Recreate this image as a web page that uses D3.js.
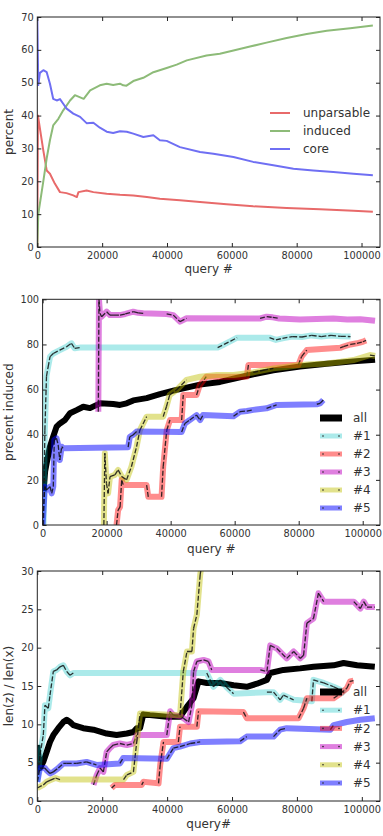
<!DOCTYPE html>
<html>
<head>
<meta charset="utf-8">
<script src="https://cdn.jsdelivr.net/npm/d3@7"></script>
<style>
  body { margin: 0; background: #fff; }
  text { font-family: "DejaVu Sans", sans-serif; fill: #333; }
</style>
</head>
<body>
<div id="chart"></div>
<script>
// ---- panel 1: percent of queries ----
const p1Unparsable = [[0,0],[200,40],[1850,29.4],[2900,23.3],[3900,22.3],[5400,19.3],[7000,16.7],[9000,16.4],[11100,15.7],[12200,15.2],[12700,16.7],[15200,17.2],[17300,16.7],[21400,16.2],[25500,15.9],[29600,15.7],[33800,15.2],[37800,14.7],[44000,14.2],[50200,13.7],[58400,13.0],[66600,12.4],[76900,11.9],[87200,11.5],[97500,11.0],[103500,10.7]];
const p1Induced = [[0,0],[300,10],[1850,20],[2900,27],[3900,32.5],[4900,37],[6500,39],[8000,41.6],[10100,44.6],[11600,46.2],[14300,45.1],[16300,47.7],[19300,49.2],[21400,49.7],[23400,49.3],[25500,49.7],[26500,49.2],[27500,49.1],[29600,50.5],[32700,51.5],[35800,53.2],[39900,54.5],[43000,55.5],[46100,56.8],[52200,58.3],[56300,58.8],[60500,59.8],[65600,61],[70700,62.2],[76900,63.6],[83100,64.8],[89300,65.8],[96500,66.6],[103500,67.4]];
const p1Core = [[0,70],[300,49.3],[800,53],[1850,53.8],[2900,53.2],[3900,49.7],[4900,45.1],[6000,44.6],[7000,45],[8000,43.6],[9050,42.1],[11100,40.6],[13200,39.6],[15200,37.7],[17300,37.8],[19300,36.3],[21400,35.1],[23400,34.7],[25500,35.2],[27600,35.1],[29600,34.5],[32700,33.5],[35800,34],[37800,32.5],[39900,32.3],[44000,30.4],[50200,28.9],[54300,28.4],[60500,27.4],[66600,25.9],[72800,24.9],[79000,23.8],[85100,23.3],[91300,22.8],[97500,22.3],[103500,21.8]];
const p1Names = ["unparsable", "induced", "core"];

// ---- panel 2: precent induced ----
const p2All = [[300,15],[810,24],[1250,27.3],[2290,34.7],[3330,39.2],[4370,43.6],[5420,45],[6980,46.5],[8550,49.5],[10620,50.9],[12710,52.4],[14790,51.8],[17920,53.9],[22080,53.6],[24170,53.2],[26250,53.9],[28330,55.2],[32500,56.2],[36660,58],[40830,59.5],[45000,60.9],[49170,62.2],[55410,63.4],[59590,64.8],[65830,66.8],[72080,68.5],[80410,70.2],[88750,71.4],[97080,72.5],[103850,73.2]];
const p2N1 = [[300,0],[710,42],[1220,66],[1720,70],[2330,74.6],[3340,76],[5370,77.5],[7490,79],[9010,80.5],[10020,78.3],[11640,78.6],[54680,78.6],[56700,80],[58730,81.5],[60750,83],[70880,83],[72900,82],[74930,82.7],[77960,83.5],[81000,83.3],[84040,84],[87080,83.5],[90110,84],[93150,83.6],[96190,83.5]];
const p2N2 = [[23090,0],[23590,6.6],[24200,8],[24710,20],[25210,17.7],[32500,17.7],[33010,12.5],[37160,12.5],[37670,25.8],[38780,42],[39790,46.5],[43440,46.5],[43940,57.6],[48090,57.6],[49110,62],[51130,65.7],[63790,65.7],[64290,70.9],[79890,70.9],[80900,74.6],[82520,77.5],[92950,78.5],[93960,79],[96190,80],[98210,80.5],[100040,81.2],[101050,81.8]];
const p2N3 = [[17400,50.2],[17610,100],[17920,93.8],[18430,92.3],[20000,94.5],[21040,93],[22280,93],[24170,93],[25820,93.5],[28330,94.5],[29870,94],[31460,93.8],[38750,93.5],[40830,93],[42920,90.1],[45000,91.6],[67920,91.5],[70000,92.3],[71890,92],[73910,91.5],[80410,91],[90830,91.5],[95180,91],[99230,91.2],[103850,90.5]];
const p2N4 = [[19140,0],[19440,31.8],[19950,18.5],[20450,14],[21060,21.4],[22580,22.2],[23590,24.4],[24710,21.5],[26220,20],[27740,25.8],[29360,34.7],[30380,42],[32500,48],[37670,48],[38680,52.4],[39690,57.6],[41820,59.8],[44960,64.3],[49210,65.7],[54370,66.5],[59640,66.5],[65810,67.6],[68850,68.5],[72090,69.4],[75940,70],[80390,70.9],[84040,71.2],[88800,71.6],[93150,72.3],[97100,73.1],[102260,75.3],[103880,74.9]];
const p2N5 = [[0,0],[710,17],[1220,15.5],[2330,17],[2840,14],[3340,17],[3650,37.7],[4350,38.4],[4860,35.5],[5370,28.8],[5970,34.7],[6380,34],[26730,34.5],[27240,39.1],[28250,39.9],[29360,41.4],[43440,41.2],[44450,45],[45970,46.5],[48090,48.7],[49210,46.5],[50120,48.7],[59640,48.2],[61660,50.2],[63790,50.5],[65810,51],[69960,51.7],[73100,53.2],[85660,53.5],[86670,53.9],[87680,55.4]];

// ---- panel 3: len(z) / len(x) ----
const p3All = [[0,7.3],[820,4.3],[1850,5.1],[2880,6.4],[3910,7.7],[4940,8.6],[6470,9.5],[8020,10.3],[9050,10.6],[10080,10.3],[11100,9.9],[14150,9.5],[17310,9.3],[21380,8.8],[24430,8.6],[27590,8.8],[29620,9.0],[30640,9.5],[31660,9.5],[32680,11.3],[34710,11.2],[39900,11.0],[43980,11.0],[46120,12.3],[48150,13.4],[49680,15.6],[52220,15.4],[56400,15.4],[60470,15.1],[64540,14.9],[67700,15.3],[70750,15.8],[71770,16.7],[75840,17.1],[81030,17.3],[85100,17.5],[91310,17.7],[94370,18],[98540,17.7],[104000,17.5]];
const p3N1 = [[0,2.5],[820,6],[1850,8.6],[2360,12.5],[3390,12.1],[3910,13.8],[4940,16.9],[5970,17.1],[6990,17.5],[8020,17.7],[9050,16.9],[10080,16.4],[11100,16.7],[52220,16.7],[54260,14.9],[56400,15.8],[58430,14.8],[60470,14.0],[70750,14.2],[72790,14.2],[74820,13.2],[75840,13.8],[79000,13.2],[84600,13],[85100,15.8],[88260,15.4],[91310,14.9],[93350,14.5],[94880,14.0]];
const p3N2 = [[22900,1.7],[23920,2.1],[32170,2.1],[32680,2.5],[37360,2.3],[37870,4.7],[38890,7.7],[43470,7.7],[43980,9.7],[49170,9.7],[49680,11.7],[63520,11.6],[64540,10.8],[80520,10.8],[82050,12.1],[83070,13.4],[91310,13.4],[93350,14.0],[95390,14.7],[96400,15.6],[97420,15.7]];
const p3N3 = [[17310,2.1],[18320,3.4],[19340,4.3],[20360,3.8],[21380,6.4],[22400,6.9],[23410,7.3],[25450,7.5],[27590,7.3],[29620,7.5],[30640,8.6],[39900,8.6],[40920,11.7],[41940,11.2],[44490,11],[45000,10.8],[46620,10.3],[47640,12.5],[48150,16.9],[49170,18.2],[51210,18.4],[52730,18.2],[53750,17.1],[68720,17.1],[70750,16.9],[71770,20.3],[73800,19.9],[76860,18.6],[79000,19.5],[81030,18.6],[82050,19],[83070,23.2],[85100,23.8],[86630,27.1],[88260,26],[97520,26],[99560,25.1],[100590,26],[101600,25.3],[104000,25.3]];
const p3N4 = [[0,1.7],[1850,2.1],[2880,2.5],[3910,2.7],[5600,3.0],[6990,2.8],[26570,2.8],[27590,3.4],[29620,3.8],[30640,7.7],[31660,11.4],[43980,11.2],[44990,16.9],[46120,19.5],[47640,19.5],[48150,22.5],[49170,24.3],[50190,29.5],[50700,31]];
const p3N5 = [[0,2.5],[820,4.3],[2360,4.3],[2880,4.0],[3910,3.6],[4940,3.8],[6470,4.3],[8020,4.9],[9050,4.9],[12110,4.9],[15170,5.1],[18220,4.7],[25450,4.9],[26470,5.6],[39900,5.5],[41940,6.9],[43980,7.1],[47130,7.5],[50190,7.7],[62500,7.8],[64540,8.4],[72790,8.4],[74820,9.3],[76860,9.5],[90300,9.3],[91310,9.9],[95380,10.3],[99560,10.6],[104000,10.8]];
const groupNames = ["all", "#1", "#2", "#3", "#4", "#5"];

const xTicks = [0, 20000, 40000, 60000, 80000, 100000];

const width = 383, height = 836;
const svg = d3.select("#chart").append("svg")
    .attr("width", width)
    .attr("height", height);

const groupStyle = [
    {color: "#000", width: 6, legendWidth: 7, opacity: 1, dots: false},
    {color: "#00bfbf", width: 6, legendWidth: 5, opacity: 0.33, dots: true},
    {color: "#ff0000", width: 6, legendWidth: 5, opacity: 0.45, dots: true},
    {color: "#bf00bf", width: 6, legendWidth: 5, opacity: 0.5, dots: true},
    {color: "#bfbf00", width: 6, legendWidth: 5, opacity: 0.45, dots: true},
    {color: "#0000ff", width: 6, legendWidth: 5, opacity: 0.5, dots: true}
];

const panels = [
    {
        id: "p1", left: 37.3, right: 380, top: 17, bottom: 247, xMax: 105700,
        yMax: 70, yTicks: d3.range(0, 71, 10), yLabel: "percent", xLabel: "query #", xLabelY: 273,
        series: [p1Unparsable, p1Induced, p1Core], names: p1Names,
        styles: [
            {color: "#e86a6a", width: 2, legendWidth: 2, opacity: 1, dots: false},
            {color: "#8dbb78", width: 2, legendWidth: 2, opacity: 1, dots: false},
            {color: "#6f6ff3", width: 2, legendWidth: 2, opacity: 1, dots: false}
        ],
        legend: {x1: 270, x2: 290, tx: 303, y: 113, step: 18}
    },
    {
        id: "p2", left: 42.6, right: 380, top: 299.3, bottom: 525, xMax: 105400,
        yMax: 100, yTicks: d3.range(0, 101, 20), yLabel: "precent induced", xLabel: "query #", xLabelY: 553,
        series: [p2All, p2N1, p2N2, p2N3, p2N4, p2N5], names: groupNames, styles: groupStyle,
        legend: {x1: 320, x2: 342, tx: 353, y: 418, step: 18}
    },
    {
        id: "p3", left: 37.3, right: 380, top: 571, bottom: 801, xMax: 105600,
        yMax: 30, yTicks: d3.range(0, 31, 5), yLabel: "len(z) / len(x)", xLabel: "query#", xLabelY: 828,
        series: [p3All, p3N1, p3N2, p3N3, p3N4, p3N5], names: groupNames, styles: groupStyle,
        legend: {x1: 320, x2: 342, tx: 353, y: 692, step: 18.2}
    }
];

panels.forEach(drawPanel);

function drawPanel(p) {
    const x = d3.scaleLinear().domain([0, p.xMax]).range([p.left, p.right]);
    const y = d3.scaleLinear().domain([0, p.yMax]).range([p.bottom, p.top]);
    const g = svg.append("g");

    g.append("clipPath").attr("id", "clip-" + p.id)
        .append("rect")
        .attr("x", p.left).attr("y", p.top)
        .attr("width", p.right - p.left).attr("height", p.bottom - p.top);

    const plot = g.append("g").attr("clip-path", `url(#clip-${p.id})`);
    const line = d3.line().x(d => x(d[0])).y(d => y(d[1]));

    p.series.forEach((data, i) => {
        const s = p.styles[i];
        plot.append("path")
            .attr("d", line(data))
            .attr("fill", "none")
            .attr("stroke", s.color)
            .attr("stroke-opacity", s.opacity)
            .attr("stroke-width", s.width)
            .attr("stroke-linejoin", "round");
        if (s.dots) {
            // black marker trace only where samples are dense
            for (let k = 1; k < data.length; k++) {
                if (data[k][0] - data[k - 1][0] > 3500) continue;
                plot.append("path")
                    .attr("d", line([data[k - 1], data[k]]))
                    .attr("fill", "none")
                    .attr("stroke", "#111")
                    .attr("stroke-opacity", 0.85)
                    .attr("stroke-width", 1.3)
                    .attr("stroke-dasharray", "5,2");
            }
        }
    });

    // axes with inward ticks on all sides
    g.append("g")
        .attr("transform", `translate(0,${p.bottom})`)
        .call(d3.axisBottom(x).tickValues(xTicks).tickFormat(d3.format("d")).tickSize(-4).tickPadding(5));
    g.append("g")
        .attr("transform", `translate(${p.left},0)`)
        .call(d3.axisLeft(y).tickValues(p.yTicks).tickSize(-4).tickPadding(3.5));
    g.append("g")
        .attr("transform", `translate(0,${p.top})`)
        .call(d3.axisTop(x).tickValues(xTicks).tickFormat("").tickSize(-4));
    g.append("g")
        .attr("transform", `translate(${p.right},0)`)
        .call(d3.axisRight(y).tickValues(p.yTicks).tickFormat("").tickSize(-4));

    g.selectAll(".domain").remove();
    g.selectAll(".tick line").attr("stroke", "#222");
    g.selectAll(".tick text")
        .attr("font-size", 9.8)
        .attr("font-family", "DejaVu Sans")
        .attr("fill", "#333");

    g.append("rect")
        .attr("x", p.left).attr("y", p.top)
        .attr("width", p.right - p.left).attr("height", p.bottom - p.top)
        .attr("fill", "none")
        .attr("stroke", "#222")
        .attr("stroke-width", 1);

    g.append("text")
        .attr("x", (p.left + p.right) / 2)
        .attr("y", p.xLabelY)
        .attr("text-anchor", "middle")
        .attr("font-size", 12)
        .text(p.xLabel);

    g.append("text")
        .attr("transform", `translate(13,${(p.top + p.bottom) / 2}) rotate(-90)`)
        .attr("text-anchor", "middle")
        .attr("font-size", 12)
        .text(p.yLabel);

    // legend, no frame
    const lg = g.append("g");
    p.names.forEach((name, i) => {
        const s = p.styles[i];
        const ly = p.legend.y + i * p.legend.step;
        lg.append("line")
            .attr("x1", p.legend.x1).attr("x2", p.legend.x2)
            .attr("y1", ly).attr("y2", ly)
            .attr("stroke", s.color)
            .attr("stroke-opacity", s.opacity)
            .attr("stroke-width", s.legendWidth);
        if (s.dots) {
            [p.legend.x1 + 3, p.legend.x2 - 3].forEach(cx => {
                lg.append("circle")
                    .attr("cx", cx).attr("cy", ly).attr("r", 0.8)
                    .attr("fill", "#222");
            });
        }
        lg.append("text")
            .attr("x", p.legend.tx)
            .attr("y", ly)
            .attr("dy", "0.35em")
            .attr("font-size", 12)
            .text(name);
    });
}
</script>
</body>
</html>
